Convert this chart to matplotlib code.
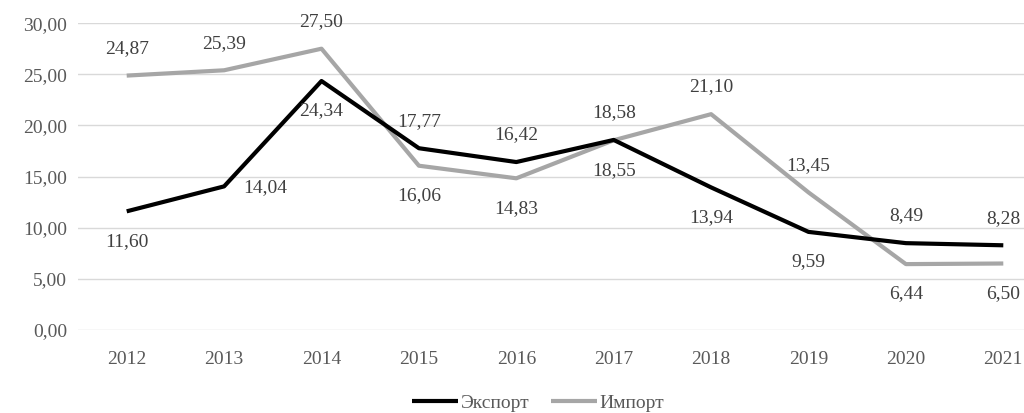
import matplotlib
matplotlib.use("Agg")
import matplotlib.pyplot as plt

years = ["2012", "2013", "2014", "2015", "2016", "2017", "2018", "2019", "2020", "2021"]
export_vals = [11.60, 14.04, 24.34, 17.77, 16.42, 18.58, 13.94, 9.59, 8.49, 8.28]
import_vals = [24.87, 25.39, 27.50, 16.06, 14.83, 18.55, 21.10, 13.45, 6.44, 6.50]
# label placement: 'a' above, 'b' below, 'r' right
export_pos = ["b", "r", "b", "a", "a", "a", "b", "b", "a", "a"]
import_pos = ["a", "a", "a", "b", "b", "b", "a", "a", "b", "b"]
y_ticks = [0, 5, 10, 15, 20, 25, 30]

plt.rcParams["font.family"] = ["Liberation Serif", "DejaVu Serif"]
FS = 14

fig = plt.figure(figsize=(10.24, 4.13), dpi=100)
ax = fig.add_axes([78 / 1024, 0.201, (1052 - 78) / 1024, 0.743])

x = list(range(len(years)))
ax.plot(x, export_vals, color="black", lw=3.0, solid_capstyle="butt", label="Экспорт", zorder=3)
ax.plot(x, import_vals, color="#a6a6a6", lw=3.0, solid_capstyle="butt", label="Импорт", zorder=2)

def fmt(v):
    return f"{v:.2f}".replace(".", ",")

def place(vals, poss):
    for i, (v, p) in enumerate(zip(vals, poss)):
        if p == "a":
            off, ha = (0, 19.5), "center"
        elif p == "b":
            off, ha = (0, -21.5), "center"
        else:
            off, ha = (14, -1), "left"
        ax.annotate(fmt(v), (i, v), xytext=off, textcoords="offset points",
                    ha=ha, va="center", fontsize=FS, color="#404040")

place(export_vals, export_pos)
place(import_vals, import_pos)

ax.set_xlim(-0.5, len(years) - 0.5)
ax.set_ylim(0, 30)
ax.set_yticks(y_ticks)
ax.set_yticklabels([fmt(t) for t in y_ticks])
ax.set_xticks(x)
ax.set_xticklabels(years)
ax.tick_params(axis="both", length=0, labelsize=FS, colors="#595959")
ax.tick_params(axis="y", pad=8)
ax.tick_params(axis="x", pad=15)
ax.grid(axis="y", color="#d9d9d9", lw=1)
ax.set_axisbelow(True)
for s in ax.spines.values():
    s.set_visible(False)

leg = fig.legend(loc="center", bbox_to_anchor=(538 / 1024, 10 / 413), ncol=2,
                 frameon=False, fontsize=FS, handlelength=2.36, handletextpad=0.12,
                 columnspacing=1.1, borderaxespad=0)
for t in leg.get_texts():
    t.set_color("#595959")

fig.savefig("out.png", dpi=100)
